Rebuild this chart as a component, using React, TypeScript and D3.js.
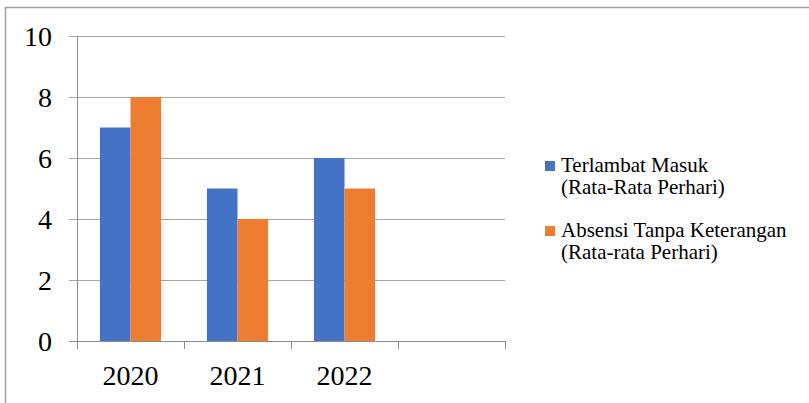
import * as d3 from "d3";
import * as React from "react";

const categories = ["2020", "2021", "2022", ""];
const seriesNames = ["Terlambat Masuk", "Absensi Tanpa Keterangan"];
const legendSub = ["(Rata-Rata Perhari)", "(Rata-rata Perhari)"];
const terlambat = [7, 5, 6, null];
const absensi = [8, 4, 5, null];
const yTicks = [0, 2, 4, 6, 8, 10];
const colors = ["#4472C4", "#ED7D31"];

const FONT = "Liberation Serif, Tinos, Times New Roman, DejaVu Serif, serif";

export default function App(): JSX.Element {
    const width = 809;
    const height = 403;

    const x = d3.scaleBand<string>().domain(categories).range([77, 505]).padding(0);
    const bw = x.bandwidth();
    const barW = bw / 3.5;
    const x1 = d3.scaleBand<string>()
        .domain(seriesNames)
        .range([bw * 0.75 / 3.5, bw * 0.75 / 3.5 + barW * 2])
        .padding(0);
    const y = d3.scaleLinear().domain([0, 10]).range([341, 36]);

    const values = [terlambat, absensi];

    const boundaries = categories.map(c => x(c) as number).concat([505]);

    return (
        <div style={{ position: "absolute", left: 0, top: 0 }}>
            <svg width={width} height={height} style={{ display: "block", fontFamily: FONT }}>
                <rect x={0} y={0} width={width} height={height} fill="white" />
                <rect x={5.5} y={7.5} width={width + 20} height={height + 20}
                    fill="none" stroke="#a0a0a0" strokeWidth={1.5} />

                {/* gridlines */}
                {yTicks.map(t => (
                    <line key={"g" + t} x1={69} x2={505} y1={Math.round(y(t)) + 0.5} y2={Math.round(y(t)) + 0.5}
                        stroke="#a6a6a6" strokeWidth={1} />
                ))}

                {/* bars */}
                {values.map((vals, si) =>
                    vals.map((v, ci) => v == null ? null : (
                        <rect key={`b${si}-${ci}`}
                            x={(x(categories[ci]) as number) + (x1(seriesNames[si]) as number)}
                            y={y(v)}
                            width={barW}
                            height={y(0) - y(v)}
                            fill={colors[si]} />
                    ))
                )}

                {/* axes */}
                <line x1={77.5} x2={77.5} y1={36} y2={349} stroke="#8c8c8c" strokeWidth={1} />
                <line x1={69} x2={505} y1={341.5} y2={341.5} stroke="#8c8c8c" strokeWidth={1} />
                {boundaries.map((b, i) => (
                    <line key={"t" + i} x1={Math.round(b) + 0.5} x2={Math.round(b) + 0.5} y1={341} y2={349}
                        stroke="#8c8c8c" strokeWidth={1} />
                ))}

                {/* y labels */}
                {yTicks.map(t => (
                    <text key={"yl" + t} x={52} y={y(t) + 10} textAnchor="end"
                        style={{ fontFamily: FONT, fontSize: 28 }} fill="#000">{t}</text>
                ))}

                {/* x labels */}
                {categories.map(c => (
                    <text key={"xl" + c} x={(x(c) as number) + bw / 2} y={385} textAnchor="middle"
                        style={{ fontFamily: FONT, fontSize: 28 }} fill="#000">{c}</text>
                ))}

                {/* legend */}
                {seriesNames.map((s, i) => (
                    <g key={"lg" + i} transform={`translate(545, ${161 + i * 65})`}>
                        <rect x={0} y={0} width={10} height={10} fill={colors[i]} />
                        <text x={16} y={11} style={{ fontFamily: FONT, fontSize: 21 }} fill="#000">{s}</text>
                        <text x={16} y={33} style={{ fontFamily: FONT, fontSize: 21 }} fill="#000">{legendSub[i]}</text>
                    </g>
                ))}
            </svg>
        </div>
    );
}
